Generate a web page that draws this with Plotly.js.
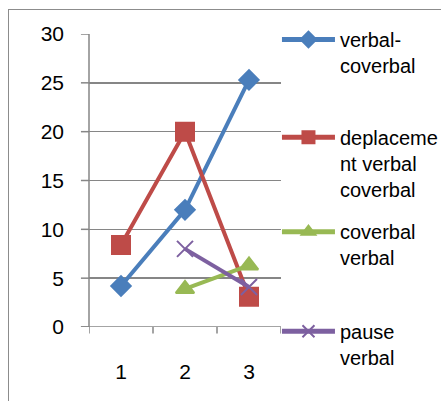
<!DOCTYPE html>
<html><head><meta charset="utf-8">
<script src="https://cdn.plot.ly/plotly-3.0.1.min.js"></script>
<style>
html,body{margin:0;padding:0;background:#fff;}
#frame{position:absolute;left:8px;top:9px;width:460px;height:420px;border:1.5px solid #8c8c8c;box-sizing:border-box;}
#chart{position:absolute;left:0;top:0;width:441px;height:401px;}
</style>
</head><body>
<div id="frame"></div>
<div id="chart"></div>
<script>
var categories = [1, 2, 3];
var seriesNames = ["verbal-<br>coverbal", "deplaceme<br>nt verbal<br>coverbal", "coverbal<br>verbal", "pause<br>verbal"];
var verbalCoverbal = [4.2, 12, 25.3];
var deplacementVerbalCoverbal = [8.4, 20, 3.1];
var coverbalVerbal = [null, 3.9, 6.3];
var pauseVerbal = [null, 8, 4.1];
var yTicks = [0, 5, 10, 15, 20, 25, 30];

var colors = ["#4A7EBB", "#BE4B48", "#98B954", "#7D60A0"];
var symbols = ["diamond", "square", "triangle-up", "x-thin-open"];
var sizes = [15, 18, 16, 16];
var legendIds = ["legend", "legend2", "legend3", "legend4"];
var legendY = [1.048, 0.714, 0.392, 0.052];
var data = [verbalCoverbal, deplacementVerbalCoverbal, coverbalVerbal, pauseVerbal].map(function(v, i){
  return {
    x: categories, y: v, name: seriesNames[i], type: "scatter", mode: "lines+markers",
    line: {color: colors[i], width: 4},
    marker: {symbol: symbols[i], size: sizes[i], color: colors[i], line: {color: colors[i], width: 2}},
    connectgaps: false, legend: legendIds[i]
  };
});

var layout = {
  width: 441, height: 401,
  margin: {l: 89, r: 160, t: 34, b: 74, autoexpand: false},
  paper_bgcolor: "rgba(0,0,0,0)", plot_bgcolor: "rgba(0,0,0,0)",
  font: {family: "Liberation Sans, Arial, sans-serif", size: 20, color: "#000"},
  showlegend: true,
  xaxis: {type: "linear", range: [0.5, 3.5], tickvals: categories, ticktext: categories.map(String),
          showgrid: false, zeroline: false, showline: false, ticks: "", ticklabelstandoff: 30,
          tickfont: {size: 21}, fixedrange: true},
  yaxis: {range: [0, 30], tickvals: yTicks, showgrid: true, gridcolor: "#868686", gridwidth: 1.5,
          zeroline: false, showline: false, ticks: "", ticklabelstandoff: 24,
          tickfont: {size: 21}, fixedrange: true},
  shapes: [
    {type: "line", xref: "paper", yref: "paper", x0: 0, x1: 0, y0: 0, y1: 1, line: {color: "#868686", width: 1.5}},
    {type: "line", xref: "paper", yref: "y", x0: -0.042, x1: 1, y0: 0, y1: 0, line: {color: "#868686", width: 1.5}}
  ].concat([0.5, 1.5, 2.5, 3.5].map(function(t){
    return {type: "line", xref: "x", yref: "paper", x0: t, x1: t, y0: 0, y1: -0.022, line: {color: "#868686", width: 1.5}};
  })).concat(yTicks.map(function(t){
    return {type: "line", xref: "paper", yref: "y", x0: -0.042, x1: 0, y0: t, y1: t, line: {color: "#868686", width: 1.5}};
  }))
};
legendIds.forEach(function(id, i){
  layout[id] = {x: 0.979, xanchor: "left", y: legendY[i], yanchor: "top", valign: "top",
                font: {size: 20}, itemwidth: 53, itemsizing: "constant",
                bgcolor: "rgba(0,0,0,0)"};
});
Plotly.newPlot("chart", data, layout, {displayModeBar: false, staticPlot: true});
</script>
</body></html>
